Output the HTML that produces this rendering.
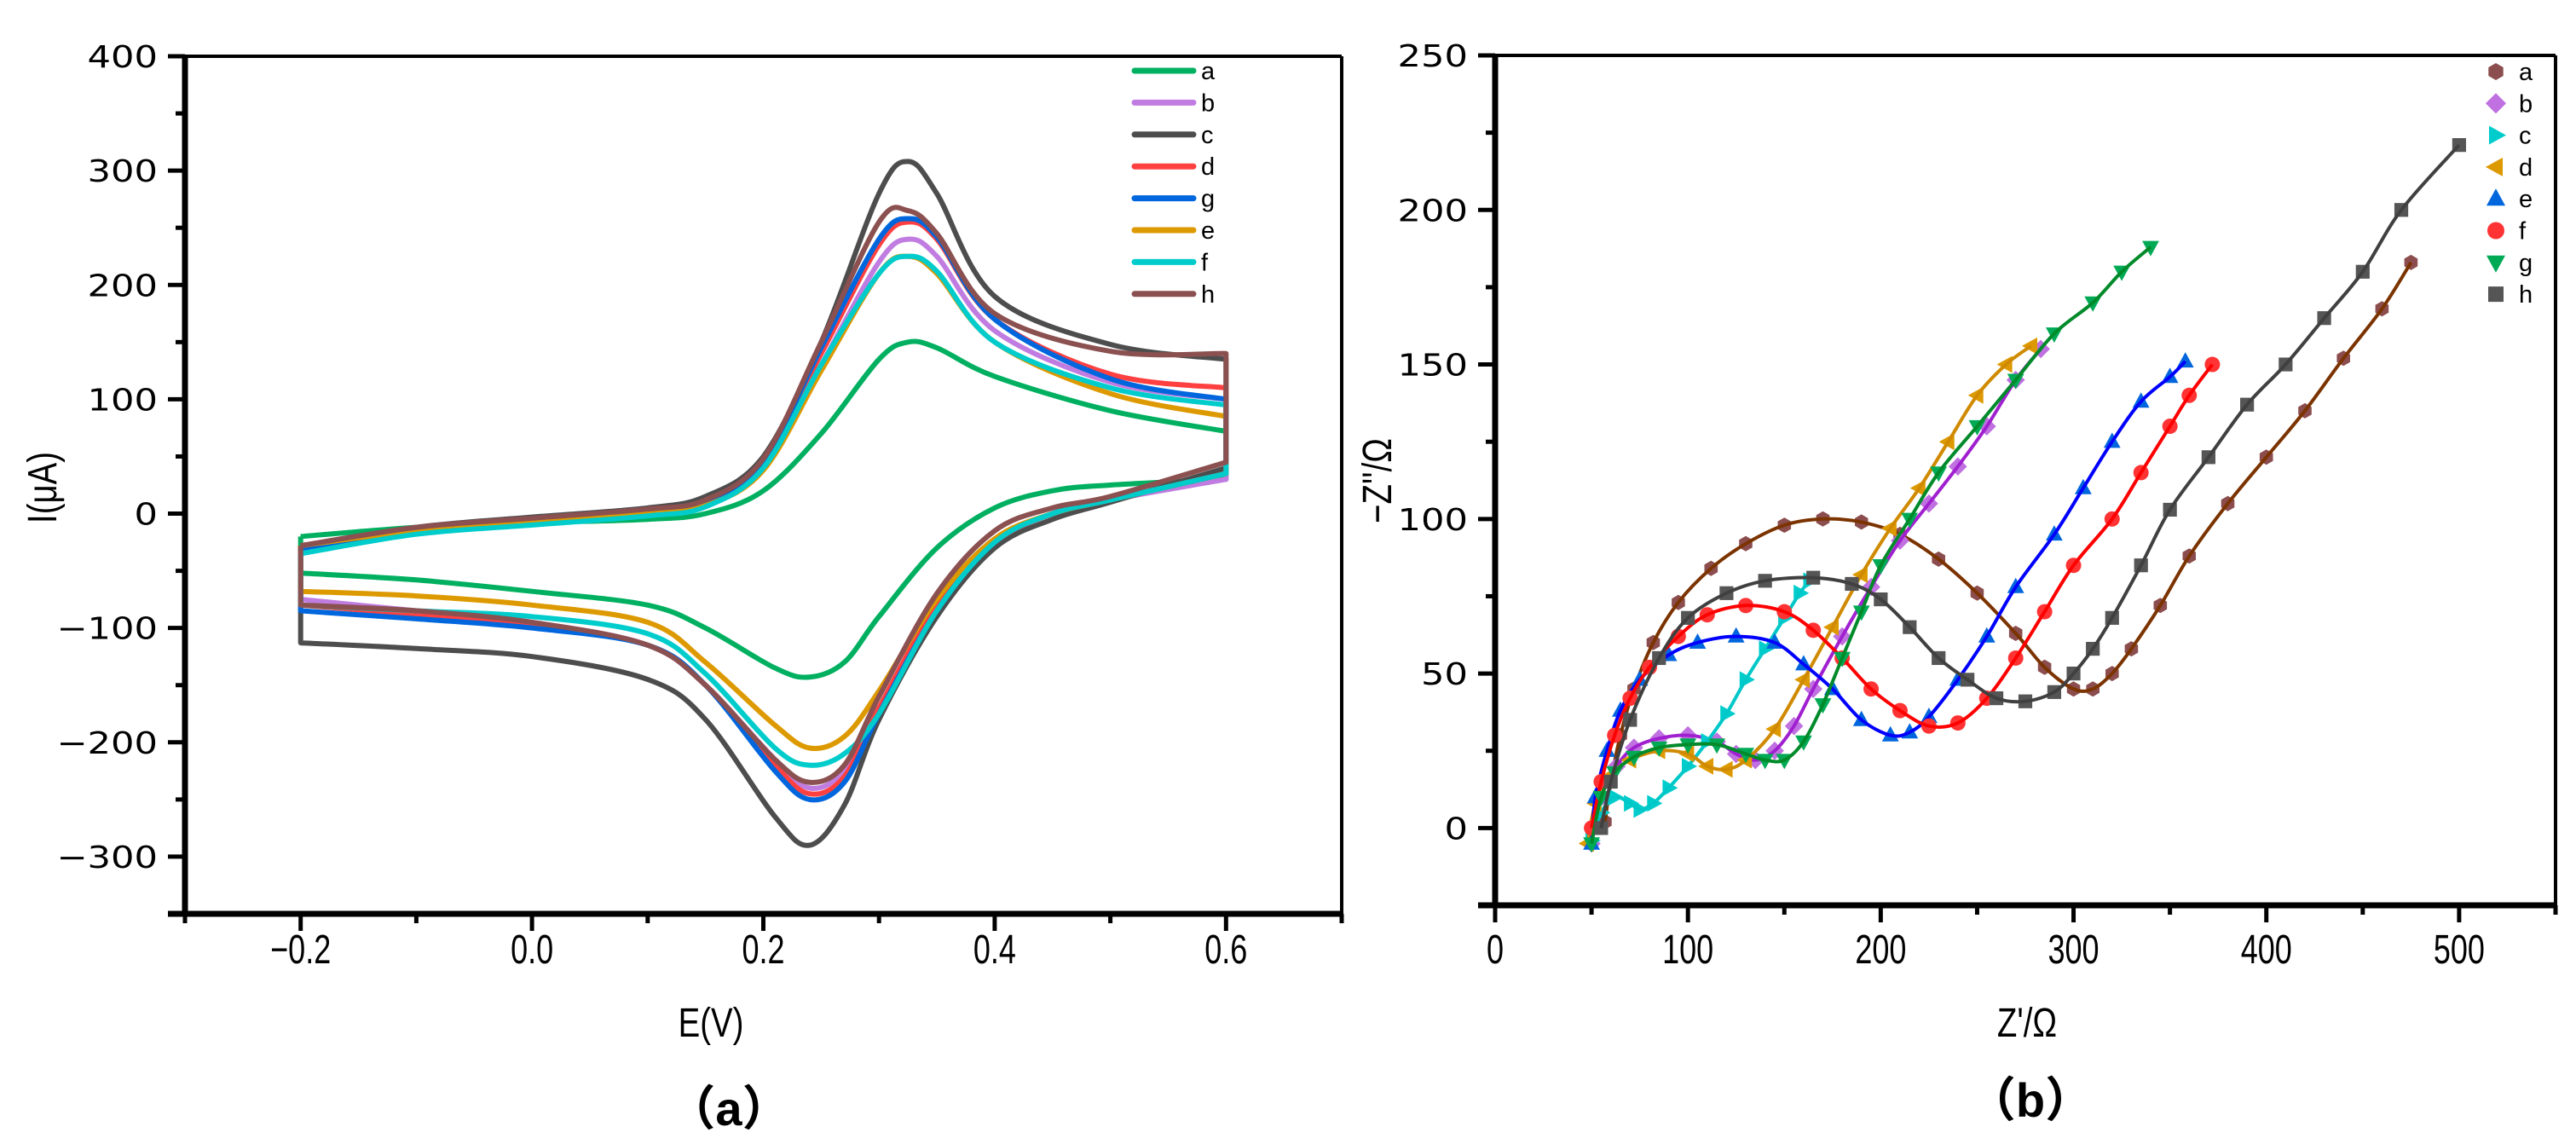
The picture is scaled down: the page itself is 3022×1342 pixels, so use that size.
<!DOCTYPE html>
<html><head><meta charset="utf-8">
<style>
html,body{margin:0;padding:0;background:#fff;}
svg{display:block;}
text{font-family:"Liberation Sans","Noto Sans CJK SC",sans-serif;fill:#000;}
.yt{font-family:"DejaVu Sans",sans-serif;font-size:36px;}
.xt{font-size:48px;}
</style></head>
<body>
<svg id="fig" width="3022" height="1342" viewBox="0 0 3022 1342" xmlns="http://www.w3.org/2000/svg"></svg>
<script>
// ---------- Chart (a) data: cyclic voltammetry ----------
const cvNames = ['a','b','c','d','g','e','f','h'];
const cvColors = ['#00b060','#c07ce0','#4d4d4d','#ff4040','#0066dd','#dd9900','#00cccc','#8b5050'];
const cvForwardE = [-0.2,-0.1,0.0,0.1,0.15,0.2,0.25,0.3,0.325,0.35,0.4,0.5,0.6];
const cvReverseE = [0.6,0.5,0.45,0.4,0.35,0.3,0.27,0.24,0.21,0.15,0.1,0.0,-0.1,-0.2];
const cvForwardI = {
  a:[-20,-12,-8,-5,0,20,70,135,150,145,120,90,72],
  b:[-30,-15,-8,0,8,40,130,220,240,225,160,115,100],
  c:[-30,-12,-3,5,15,50,150,280,308,280,190,148,135],
  d:[-28,-14,-6,2,10,45,140,235,255,240,170,122,110],
  g:[-32,-16,-8,0,8,45,145,240,258,242,170,118,100],
  e:[-28,-15,-8,0,7,38,125,210,225,210,150,105,85],
  f:[-35,-18,-10,-2,6,40,130,210,225,212,150,110,95],
  h:[-28,-12,-4,4,12,48,150,255,265,245,175,142,140]
};
const cvReverseI = {
  a:[30,25,20,5,-30,-90,-130,-143,-135,-100,-80,-68,-58,-52],
  b:[30,12,0,-25,-80,-170,-225,-240,-215,-150,-115,-95,-85,-75],
  c:[40,10,-5,-30,-90,-180,-255,-290,-265,-180,-145,-125,-118,-113],
  d:[35,12,0,-25,-80,-170,-230,-245,-220,-150,-115,-96,-88,-80],
  g:[35,12,0,-25,-85,-175,-235,-250,-225,-150,-115,-100,-92,-85],
  e:[35,12,0,-22,-75,-155,-195,-205,-185,-130,-95,-80,-72,-68],
  f:[35,12,0,-25,-85,-175,-210,-220,-205,-140,-105,-90,-85,-80],
  h:[45,15,5,-15,-70,-160,-220,-235,-215,-150,-115,-95,-85,-80]
};
const cvXTicks = [-0.2,0.0,0.2,0.4,0.6];
const cvXTickLabels = ['\u22120.2','0.0','0.2','0.4','0.6'];
const cvYTicks = [400,300,200,100,0,-100,-200,-300];
const cvYTickLabels = ['400','300','200','100','0','\u2212100','\u2212200','\u2212300'];

// ---------- Chart (b) data: Nyquist ----------
const eisNames = ['a','b','c','d','e','f','g','h'];
const eisMarkerColors = ['#8b4d4d','#c070e0','#00cccc','#dd9900','#0066dd','#ff3333','#00aa55','#555555'];
const eisLineColors = ['#7b3300','#a020d0','#00c8c8','#d08a00','#0000ff','#ff0000','#008a2a','#404040'];
const eisMarkers = ['hex','diamond','right','left','up','circle','down','square'];
const eisZre = {
  a:[57,60,65,72,82,95,112,130,150,170,190,210,230,250,270,285,300,310,320,330,345,360,380,400,420,440,460,475],
  b:[50,55,63,72,85,100,115,125,135,145,155,165,180,195,210,225,240,255,270,283],
  c:[50,55,62,70,75,82,90,100,110,120,130,140,150,158,163],
  d:[48,52,60,70,85,100,110,120,130,145,160,175,190,205,220,235,250,265,278],
  e:[50,52,58,65,75,90,105,125,145,160,175,190,205,215,225,240,255,270,290,305,320,335,350,358],
  f:[50,55,62,70,80,95,110,130,150,165,180,195,210,225,240,255,270,285,300,320,335,350,360,372],
  g:[50,55,62,72,85,100,115,130,140,150,160,170,180,190,200,215,230,250,270,290,310,325,340],
  h:[55,60,70,85,100,120,140,165,185,200,215,230,245,260,275,290,300,310,320,335,350,370,390,410,430,450,470,500]
};
const eisZim = {
  a:[2,15,30,45,60,73,84,92,98,100,99,95,87,76,63,52,45,45,50,58,72,88,105,120,135,152,168,183],
  b:[-5,10,20,26,29,30,28,24,22,25,33,45,62,78,93,105,117,130,145,155],
  c:[-4,5,10,8,6,8,13,20,28,37,48,58,68,76,80],
  d:[-5,8,17,22,25,24,20,19,22,32,48,65,82,97,110,125,140,150,156],
  e:[-5,10,25,38,48,56,60,62,60,53,45,35,30,31,36,48,62,78,95,110,125,138,146,151],
  f:[0,15,30,42,52,62,69,72,70,64,55,45,38,33,34,42,55,70,85,100,115,130,140,150],
  g:[-5,10,18,23,26,27,27,24,22,22,28,40,55,70,85,100,115,130,145,160,170,180,188],
  h:[0,15,35,55,68,76,80,81,79,74,65,55,48,42,41,44,50,58,68,85,103,120,137,150,165,180,200,221]
};
const eisXTicks = [0,100,200,300,400,500];
const eisXTickLabels = ['0','100','200','300','400','500'];
const eisYTicks = [250,200,150,100,50,0];
const eisYTickLabels = ['250','200','150','100','50','0'];

const NS='http://www.w3.org/2000/svg';
const svg=document.getElementById('fig');
function mk(tag,attrs,parent){const e=document.createElementNS(NS,tag);for(const k in attrs)e.setAttribute(k,attrs[k]);(parent||svg).appendChild(e);return e;}
function smooth(pts){
  let d='M'+pts[0][0].toFixed(1)+','+pts[0][1].toFixed(1);
  for(let i=0;i<pts.length-1;i++){
    const p0=pts[Math.max(0,i-1)],p1=pts[i],p2=pts[i+1],p3=pts[Math.min(pts.length-1,i+2)];
    const c1=[p1[0]+(p2[0]-p0[0])/6,p1[1]+(p2[1]-p0[1])/6];
    const c2=[p2[0]-(p3[0]-p1[0])/6,p2[1]-(p3[1]-p1[1])/6];
    d+='C'+c1[0].toFixed(1)+','+c1[1].toFixed(1)+' '+c2[0].toFixed(1)+','+c2[1].toFixed(1)+' '+p2[0].toFixed(1)+','+p2[1].toFixed(1);
  }
  return d;
}

const A={x0:217,x1:1574,y0:66,y1:1072,xmin:-0.3,xmax:0.7,ymin:-350,ymax:400};
const ax=v=>A.x0+(v-A.xmin)/(A.xmax-A.xmin)*(A.x1-A.x0);
const ay=v=>A.y1-(v-A.ymin)/(A.ymax-A.ymin)*(A.y1-A.y0);
const B={x0:1754,x1:2998,y0:65,y1:1062,xmin:0,xmax:550,ymin:-25,ymax:250};
const bx=v=>B.x0+(v-B.xmin)/(B.xmax-B.xmin)*(B.x1-B.x0);
const by=v=>B.y1-(v-B.ymin)/(B.ymax-B.ymin)*(B.y1-B.y0);

function frame(P,name){
  const g=mk('g',{});
  
  
  mk('line',{x1:P.x0,y1:P.y0,x2:P.x1,y2:P.y0,stroke:'#000','stroke-width':4},g);
  mk('line',{x1:P.x1,y1:P.y0,x2:P.x1,y2:P.y1,stroke:'#000','stroke-width':4},g);
  mk('line',{x1:P.x0,y1:P.y0-2,x2:P.x0,y2:P.y1+3,stroke:'#000','stroke-width':7},g);
  mk('line',{x1:P.x0-20,y1:P.y1,x2:P.x1+2,y2:P.y1,stroke:'#000','stroke-width':7},g);
  return g;
}
const ga=frame(A,'cv-chart');
for(let v=-350;v<=400;v+=50){const maj=(v%100===0);mk('line',{x1:A.x0-(maj?20:11),y1:ay(v),x2:A.x0,y2:ay(v),stroke:'#000','stroke-width':5},ga);}
for(let k=-3;k<=7;k++){const v=k/10;const maj=(k%2===0);mk('line',{x1:ax(v),y1:A.y1,x2:ax(v),y2:A.y1+(maj?20:11),stroke:'#000','stroke-width':5},ga);}
cvYTicks.forEach((v,i)=>{const x=A.x0-32;const t=mk('text',{x:x,y:ay(v)+13,'text-anchor':'end',class:'yt',transform:`translate(${x},0) scale(1.2,1) translate(${-x},0)`});t.textContent=cvYTickLabels[i];

});
cvXTicks.forEach((v,i)=>{const x=ax(v);const t=mk('text',{x:x,y:1130,'text-anchor':'middle',class:'xt',transform:`translate(${x},0) scale(0.75,1) translate(${-x},0)`});t.textContent=cvXTickLabels[i];

});
{const t=mk('text',{x:834,y:1216,'text-anchor':'middle','font-size':48,transform:'translate(834,0) scale(0.8,1) translate(-834,0)'});t.textContent='E(V)';

}
{const t=mk('text',{x:0,y:0,'text-anchor':'middle','font-size':48,transform:'translate(66,572) rotate(-90) scale(0.8,1)'});t.textContent='I(\u03bcA)';

}
{const t=mk('text',{x:855,y:1320,'text-anchor':'middle','font-size':56,'font-weight':'bold'});t.textContent='\uff08a\uff09';

}

cvNames.forEach((n,i)=>{
  const pts=[];
  cvForwardE.forEach((e,j)=>pts.push([ax(e),ay(cvForwardI[n][j])]));
  const rev=[];
  cvReverseE.forEach((e,j)=>rev.push([ax(e),ay(cvReverseI[n][j])]));
  let d=smooth(pts)+' L'+rev[0][0].toFixed(1)+','+rev[0][1].toFixed(1)+smooth(rev).replace(/^M[^C]*/,'')+' L'+pts[0][0].toFixed(1)+','+pts[0][1].toFixed(1);
  const p=mk('path',{d:d,fill:'none',stroke:cvColors[i],'stroke-width':6,'stroke-linejoin':'round'});
  
  
});
cvNames.forEach((n,i)=>{
  const y=83+i*37.4;
  const g=mk('g',{});
  
  
  mk('line',{x1:1331,y1:y,x2:1400,y2:y,stroke:cvColors[i],'stroke-width':7,'stroke-linecap':'round'},g);
  const t=mk('text',{x:1409,y:y+10,'font-size':29},g);t.textContent=n;
});

const gb=frame(B,'eis-chart');
for(let v=-25;v<=250;v+=25){const maj=(v%50===0);mk('line',{x1:B.x0-(maj?20:11),y1:by(v),x2:B.x0,y2:by(v),stroke:'#000','stroke-width':5},gb);}
for(let v=0;v<=550;v+=50){const maj=(v%100===0);mk('line',{x1:bx(v),y1:B.y1,x2:bx(v),y2:B.y1+(maj?20:11),stroke:'#000','stroke-width':5},gb);}
eisYTicks.forEach((v,i)=>{const x=B.x0-32;const t=mk('text',{x:x,y:by(v)+13,'text-anchor':'end',class:'yt',transform:`translate(${x},0) scale(1.2,1) translate(${-x},0)`});t.textContent=eisYTickLabels[i];

});
eisXTicks.forEach((v,i)=>{const x=bx(v);const t=mk('text',{x:x,y:1130,'text-anchor':'middle',class:'xt',transform:`translate(${x},0) scale(0.75,1) translate(${-x},0)`});t.textContent=eisXTickLabels[i];

});
{const t=mk('text',{x:2378,y:1216,'text-anchor':'middle','font-size':48,transform:'translate(2378,0) scale(0.8,1) translate(-2378,0)'});t.textContent="Z'/\u03a9";

}
{const t=mk('text',{x:0,y:0,'text-anchor':'middle','font-size':48,transform:'translate(1632,564) rotate(-90) scale(0.8,1)'});t.textContent="\u2212Z''/\u03a9";

}
{const t=mk('text',{x:2382,y:1310,'text-anchor':'middle','font-size':56,'font-weight':'bold'});t.textContent='\uff08b\uff09';

}

function marker(type,x,y,r,color,parent){
  let el;
  if(type==='circle') el=mk('circle',{cx:x,cy:y,r:r},parent);
  else if(type==='square') el=mk('rect',{x:x-r*0.9,y:y-r*0.9,width:r*1.8,height:r*1.8},parent);
  else{
    let pts;
    if(type==='hex'){pts=[];for(let k=0;k<6;k++){const a=Math.PI/6+k*Math.PI/3;pts.push([x+r*Math.cos(a),y+r*Math.sin(a)]);}}
    else if(type==='diamond') pts=[[x,y-r*1.2],[x+r*1.2,y],[x,y+r*1.2],[x-r*1.2,y]];
    else if(type==='up') pts=[[x,y-r*1.2],[x+r*1.1,y+r*0.8],[x-r*1.1,y+r*0.8]];
    else if(type==='down') pts=[[x,y+r*1.2],[x+r*1.1,y-r*0.8],[x-r*1.1,y-r*0.8]];
    else if(type==='right') pts=[[x+r*1.2,y],[x-r*0.8,y-r*1.1],[x-r*0.8,y+r*1.1]];
    else pts=[[x-r*1.2,y],[x+r*0.8,y-r*1.1],[x+r*0.8,y+r*1.1]];
    el=mk('polygon',{points:pts.map(p=>p[0].toFixed(1)+','+p[1].toFixed(1)).join(' ')},parent);
  }
  el.setAttribute('fill',color);
  return el;
}
eisNames.forEach((n,i)=>{
  const g=mk('g',{});
  
  
  const pts=eisZre[n].map((v,j)=>[bx(v),by(eisZim[n][j])]);
  pts.forEach(p=>marker(eisMarkers[i],p[0],p[1],9,eisMarkerColors[i],g));
  mk('path',{d:smooth(pts),fill:'none',stroke:eisLineColors[i],'stroke-width':4},g);
});
eisNames.forEach((n,i)=>{
  const y=84+i*37.3;
  const g=mk('g',{});
  
  
  marker(eisMarkers[i],2928,y,10,eisMarkerColors[i],g);
  const t=mk('text',{x:2955,y:y+10,'font-size':29},g);t.textContent=n;
});
</script>
</body></html>
